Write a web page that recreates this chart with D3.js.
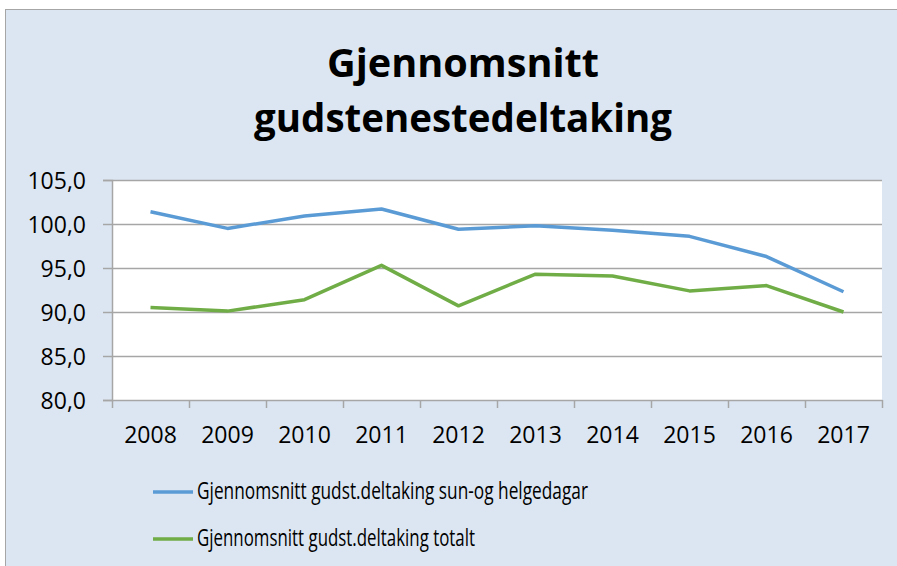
<!DOCTYPE html>
<html>
<head>
<meta charset="utf-8">
<script src="https://cdn.jsdelivr.net/npm/d3@7"></script>
<style>
  html, body { margin: 0; padding: 0; background: #ffffff; }
  svg { display: block; }
  text { font-family: "Open Sans", "DejaVu Sans", sans-serif; fill: #000; }
</style>
</head>
<body>
<svg id="chart" width="897" height="566"></svg>
<script>
const years = ["2008","2009","2010","2011","2012","2013","2014","2015","2016","2017"];
const helgSeries = [101.4, 99.5, 100.9, 101.7, 99.4, 99.8, 99.3, 98.6, 96.3, 92.3];
const totalSeries = [90.5, 90.1, 91.4, 95.3, 90.7, 94.3, 94.1, 92.4, 93.0, 90.0];
const yTickValues = [80, 85, 90, 95, 100, 105];
const seriesNames = ["Gjennomsnitt gudst.deltaking sun-og helgedagar", "Gjennomsnitt gudst.deltaking totalt"];
const titleLines = ["Gjennomsnitt", "gudstenestedeltaking"];
const colors = ["#5b9bd5", "#70ad47"];

const svg = d3.select("#chart");
const W = 897, H = 566;
const plot = { left: 112, right: 882, top: 180, bottom: 400 };

// outer chart area
svg.append("rect").attr("x", 5.5).attr("y", 9.5).attr("width", W).attr("height", H)
  .attr("fill", "#dce6f2").attr("stroke", "#a6a6a6").attr("stroke-width", 1);

// title
const titleWidths = [272, 418];
const titleY = [77, 132];
titleLines.forEach((t, i) => {
  svg.append("text").attr("x", 463).attr("y", titleY[i])
    .attr("text-anchor", "middle").attr("font-size", 40).attr("font-weight", 700)
    .attr("textLength", titleWidths[i]).attr("lengthAdjust", "spacingAndGlyphs")
    .text(t);
});

const x = d3.scaleBand().domain(years).range([plot.left, plot.right]);
const y = d3.scaleLinear().domain([80, 105]).range([plot.bottom, plot.top]);

// plot area
svg.append("rect").attr("x", plot.left).attr("y", plot.top)
  .attr("width", plot.right - plot.left).attr("height", plot.bottom - plot.top)
  .attr("fill", "#ffffff");

// gridlines
svg.append("g").selectAll("line").data(yTickValues.filter(v => v !== 80)).join("line")
  .attr("x1", plot.left).attr("x2", plot.right)
  .attr("y1", d => Math.round(y(d)) + 0.5).attr("y2", d => Math.round(y(d)) + 0.5)
  .attr("stroke", "#a6a6a6").attr("stroke-width", 1.5);

// y axis
const fmt = d => d3.format(".1f")(d).replace(".", ",");
const yAxis = svg.append("g").attr("transform", `translate(${plot.left},0)`)
  .call(d3.axisLeft(y).tickValues(yTickValues).tickSize(9).tickPadding(17).tickFormat(fmt));
yAxis.select(".domain").attr("stroke", "#a6a6a6").attr("stroke-width", 1.5);
yAxis.selectAll(".tick line").attr("stroke", "#a6a6a6").attr("stroke-width", 1.5);
yAxis.selectAll(".tick text").attr("font-size", 23).attr("font-family", "\"Open Sans\", sans-serif")
  .attr("fill", "#000").attr("dy", "0.36em");

// x axis
const xAxis = svg.append("g").attr("transform", `translate(0,${plot.bottom})`)
  .call(d3.axisBottom(x).tickSize(0).tickPadding(27));
xAxis.select(".domain").attr("stroke", "#a6a6a6").attr("stroke-width", 1.5);
xAxis.selectAll(".tick text").attr("font-size", 23).attr("font-family", "\"Open Sans\", sans-serif").attr("fill", "#000");
const boundaries = years.map(d => x(d)).concat([x.range()[1]]);
xAxis.append("g").selectAll("line").data(boundaries).join("line")
  .attr("x1", d => Math.round(d) + 0.5).attr("x2", d => Math.round(d) + 0.5)
  .attr("y1", 0).attr("y2", 8)
  .attr("stroke", "#a6a6a6").attr("stroke-width", 1.5);

// lines
const line = d3.line().x((d, i) => x(years[i]) + x.bandwidth() / 2).y(d => y(d));
[helgSeries, totalSeries].forEach((s, i) => {
  svg.append("path").datum(s).attr("d", line)
    .attr("fill", "none").attr("stroke", colors[i]).attr("stroke-width", 3.5)
    .attr("stroke-linejoin", "round").attr("stroke-linecap", "butt");
});

// legend
const legendY = [492, 539];
const legendW = [391, 278];
seriesNames.forEach((n, i) => {
  svg.append("line").attr("x1", 153).attr("x2", 193)
    .attr("y1", legendY[i]).attr("y2", legendY[i])
    .attr("stroke", colors[i]).attr("stroke-width", 3.5);
  svg.append("text").attr("x", 197).attr("y", legendY[i] + 7)
    .attr("font-size", 23).attr("textLength", legendW[i]).attr("lengthAdjust", "spacingAndGlyphs")
    .text(n);
});
</script>
</body>
</html>
